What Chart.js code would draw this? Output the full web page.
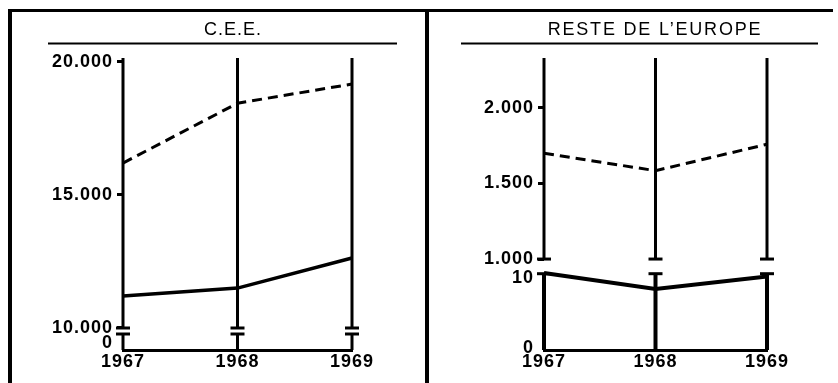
<!DOCTYPE html>
<html>
<head>
<meta charset="utf-8">
<script src="https://cdn.jsdelivr.net/npm/chart.js@4.4.1/dist/chart.umd.min.js"></script>
<style>
  html, body { margin: 0; padding: 0; background: #fff; }
  body { width: 838px; height: 383px; position: relative; overflow: hidden; }
  .frame { position: absolute; left: 8px; top: 9px; width: 821px; height: 380px; border-top: 3px solid #000; border-left: 4px solid #000; }
  .divider { position: absolute; left: 425px; top: 9px; width: 4px; height: 380px; background: #000; }
  #ceeWrap { position: absolute; left: 0; top: 0; }
  #resteWrap { position: absolute; left: 429px; top: 0; }
</style>
</head>
<body>
<div class="frame"></div>
<div class="divider"></div>
<div id="ceeWrap"><canvas id="ceeChart" width="425" height="383"></canvas></div>
<div id="resteWrap"><canvas id="resteChart" width="409" height="383"></canvas></div>
<script>
const years = ["1967", "1968", "1969"];

// C.E.E.
const ceeDashed = [16200, 18450, 19170];
const ceeSolid = [11200, 11500, 12630];
const ceeTicks = [10000, 15000, 20000];
const ceeLowTicks = [0];

// Reste de l'Europe
const resteDashed = [1700, 1585, 1760];
const resteSolid = [11, 8.7, 10.5];
const resteTicks = [1000, 1500, 2000];
const resteLowTicks = [0, 10];

const tickFont = { family: "'Liberation Sans', Arial, sans-serif", size: 18, weight: "bold" };

function fmt(v) {
  return String(v).replace(/\B(?=(\d{3})+(?!\d))/g, ".");
}

function line(ctx, x1, y1, x2, y2) {
  ctx.beginPath();
  ctx.moveTo(x1, y1);
  ctx.lineTo(x2, y2);
  ctx.stroke();
}

// broken verticals at each year, titles with underline
const breakPlugin = {
  id: "breaks",
  beforeDraw(chart) {
    chart.ctx.letterSpacing = "1px";
  },
  beforeDatasetsDraw(chart, args, opts) {
    const { ctx, chartArea, scales } = chart;
    const top = scales.yTop, low = scales.yLow, x = scales.x;
    const yBreak = top.getPixelForValue(opts.topBreak);
    const yLowBreak = low.getPixelForValue(opts.lowBreak);
    const y0 = low.getPixelForValue(0);
    ctx.save();
    ctx.strokeStyle = "#000";
    years.forEach((yr, i) => {
      const px = x.getPixelForValue(i);
      ctx.lineWidth = 3;
      line(ctx, px, chartArea.top, px, yBreak);
      line(ctx, px - 7, yBreak, px + 7, yBreak);
      line(ctx, px - 7, yLowBreak, px + 7, yLowBreak);
      ctx.lineWidth = opts.lowWidth;
      line(ctx, px, yLowBreak, px, y0);
    });
    ctx.restore();
  },
  afterDraw(chart, args, opts) {
    const ctx = chart.ctx;
    ctx.save();
    ctx.letterSpacing = opts.titleSpacing;
    ctx.font = "18px 'Liberation Sans', Arial, sans-serif";
    ctx.fillStyle = "#000";
    ctx.textAlign = "center";
    ctx.textBaseline = "alphabetic";
    ctx.fillText(opts.title, opts.titleX, 35);
    ctx.strokeStyle = "#000";
    ctx.lineWidth = 2;
    line(ctx, opts.ruleFrom, 43.5, opts.ruleTo, 43.5);
    ctx.restore();
    ctx.letterSpacing = "0px";
  }
};

function createPanel(canvasId, p) {
  const ctx = document.getElementById(canvasId).getContext("2d");
  return new Chart(ctx, {
    type: "line",
    data: {
      labels: years,
      datasets: [
        {
          data: p.dashed,
          yAxisID: "yTop",
          borderColor: "#000",
          borderWidth: 3,
          borderDash: [10, 6],
          pointRadius: 0,
          fill: false,
          tension: 0
        },
        {
          data: p.solid,
          yAxisID: p.solidAxis,
          borderColor: "#000",
          borderWidth: p.solidWidth,
          pointRadius: 0,
          fill: false,
          tension: 0
        }
      ]
    },
    options: {
      responsive: false,
      animation: false,
      events: [],
      layout: { padding: { left: 0, top: 58, right: p.padRight, bottom: 0 } },
      plugins: {
        legend: { display: false },
        tooltip: { enabled: false },
        breaks: {
          topBreak: p.topBreak,
          lowBreak: p.lowBreak,
          lowWidth: p.lowWidth,
          title: p.title,
          titleX: p.titleX,
          titleSpacing: p.titleSpacing,
          ruleFrom: p.ruleFrom,
          ruleTo: p.ruleTo
        }
      },
      scales: {
        x: {
          type: "category",
          offset: false,
          grid: { display: false, drawTicks: false },
          border: { display: true, color: "#000", width: 3 },
          ticks: { color: "#000", font: tickFont, padding: 1, maxRotation: 0, autoSkip: false },
          afterFit: s => { s.height = 33; }
        },
        // stacked left axes are laid out last-defined on top
        yLow: {
          type: "linear",
          position: "left",
          stack: "v",
          stackWeight: p.lowWeight,
          min: 0,
          max: p.lowMax,
          afterBuildTicks: s => { s.ticks = p.lowTicks.map(v => ({ value: v })); },
          afterFit: s => { s.width = p.axisLeft; },
          grid: { drawOnChartArea: false, tickLength: 6, tickWidth: 3, tickColor: "rgba(0,0,0,0)" },
          border: { display: false },
          ticks: { color: "#000", font: tickFont, padding: 4, labelOffset: p.lowLabelOffset, callback: fmt }
        },
        yTop: {
          type: "linear",
          position: "left",
          stack: "v",
          stackWeight: p.topWeight,
          min: p.topMin,
          max: p.topMax,
          afterBuildTicks: s => { s.ticks = p.topTicks.map(v => ({ value: v })); },
          afterFit: s => { s.width = p.axisLeft; },
          grid: { drawOnChartArea: false, tickLength: 6, tickWidth: 3, tickColor: "#000" },
          border: { display: false },
          ticks: { color: "#000", font: tickFont, padding: 4, callback: fmt }
        }
      }
    },
    plugins: [breakPlugin]
  });
}

createPanel("ceeChart", {
  dashed: ceeDashed, solid: ceeSolid, solidAxis: "yTop", solidWidth: 3.5,
  topTicks: ceeTicks, lowTicks: ceeLowTicks,
  topMin: 9887, topMax: 20150, lowMax: 19,
  topWeight: 273, lowWeight: 19,
  topBreak: 10000, lowBreak: 16, lowWidth: 3, lowLabelOffset: -7,
  axisLeft: 123, padRight: 73,
  title: "C.E.E.", titleX: 233, titleSpacing: "1px", ruleFrom: 48, ruleTo: 397
});

createPanel("resteChart", {
  dashed: resteDashed, solid: resteSolid, solidAxis: "yLow", solidWidth: 4,
  topTicks: resteTicks, lowTicks: resteLowTicks,
  topMin: 954, topMax: 2331, lowMax: 12,
  topWeight: 208, lowWeight: 84,
  topBreak: 1000, lowBreak: 10.9, lowWidth: 4, lowLabelOffset: -2,
  axisLeft: 115, padRight: 71,
  title: "RESTE DE L\u2019EUROPE", titleX: 226, titleSpacing: "1.8px", ruleFrom: 32, ruleTo: 389
});
</script>
</body>
</html>
